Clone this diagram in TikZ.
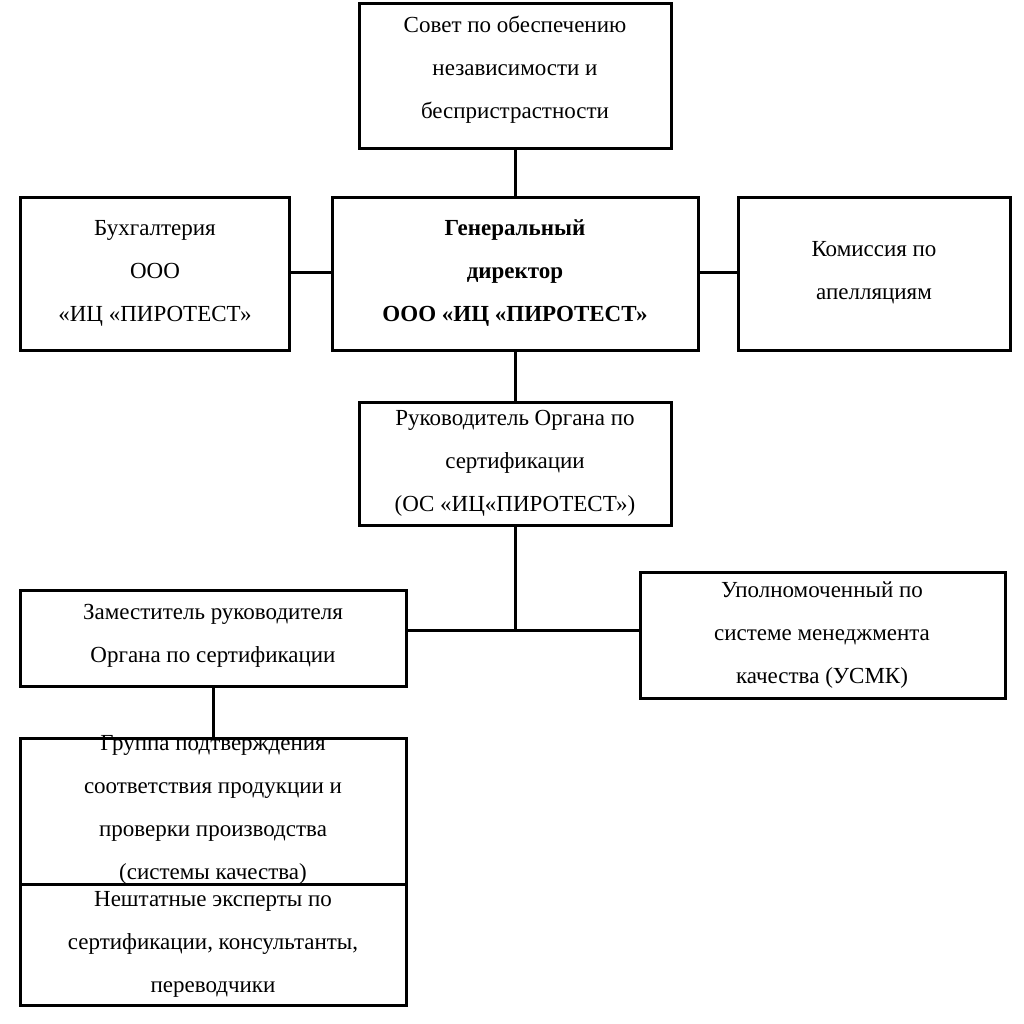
\documentclass[tikz,border=0pt]{standalone}
\usepackage{fontspec}
\setmainfont{Liberation Serif}
\begin{document}
\begin{tikzpicture}[x=0.5pt,y=-0.5pt,
  bx/.style={draw,line width=1.5pt,rectangle},
  tx/.style={align=center,font=\fontsize{11.5}{21.5}\selectfont},
  ln/.style={line width=1.5pt}]
\useasboundingbox (0,0) rectangle (1024,1024);
\draw[bx] (359,3) rectangle (671,148); \coordinate (tb) at (515,148);
\node[tx] (top) at (515,70) {Совет по обеспечению\\независимости и\\беспристрастности};
\draw[bx] (20,197) rectangle (289,350);
\node[tx] (lft) at (155,273) {Бухгалтерия\\ООО\\«ИЦ «ПИРОТЕСТ»};
\draw[bx] (332,197) rectangle (698,350);
\node[tx,font=\fontsize{11.5}{21.5}\selectfont\bfseries] (gd) at (515,273) {Генеральный\\директор\\ООО «ИЦ «ПИРОТЕСТ»};
\draw[bx] (738,197) rectangle (1010,350);
\node[tx] (rgt) at (874,273) {Комиссия по\\апелляциям};
\draw[bx] (359,402) rectangle (671,525);
\node[tx] (ruk) at (515,463) {Руководитель Органа по\\сертификации\\(ОС «ИЦ«ПИРОТЕСТ»)};
\draw[bx] (20,590) rectangle (406,686);
\node[tx] (zam) at (213,636) {Заместитель руководителя\\Органа по сертификации};
\draw[bx] (640,572) rectangle (1005,698);
\node[tx] (usmk) at (822,635) {Уполномоченный по\\системе менеджмента\\качества (УСМК)};
\draw[bx] (20,738) rectangle (406,1005);
\draw[ln] (20,884) -- (406,884);
\node[tx] (grp) at (213,810) {Группа подтверждения\\соответствия продукции и\\проверки производства\\(системы качества)};
\node[tx] (exp) at (213,944) {Нештатные эксперты по\\сертификации, консультанты,\\переводчики};
% connectors
\draw[ln] (515,148) -- (515,197);
\draw[ln] (289,272) -- (332,272);
\draw[ln] (698,272) -- (738,272);
\draw[ln] (515,350) -- (515,402);
\draw[ln] (515,525) -- (515,630);
\draw[ln] (406,630) -- (640,630);
\draw[ln] (213,686) -- (213,738);
\end{tikzpicture}
\end{document}
